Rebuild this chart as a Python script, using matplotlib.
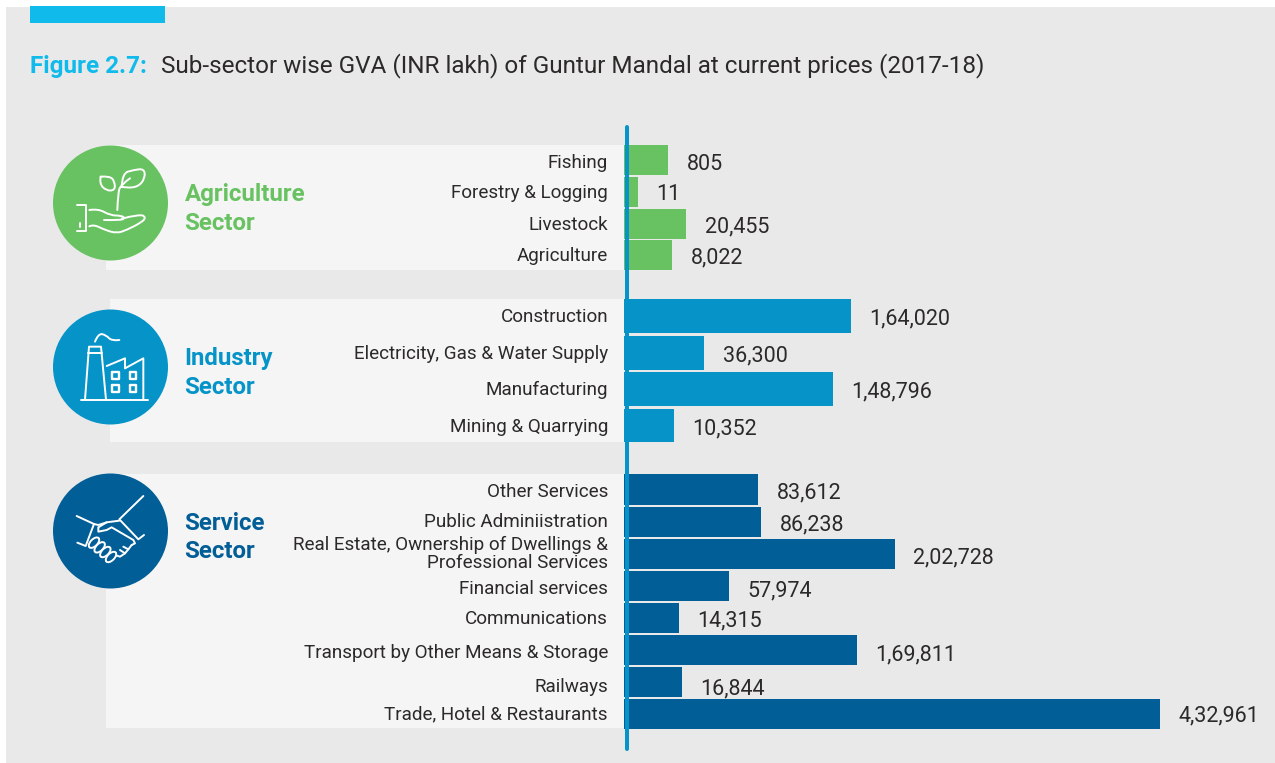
import matplotlib
matplotlib.use('Agg')
import numpy as np
import matplotlib.pyplot as plt
from matplotlib.path import Path
from matplotlib.patches import PathPatch, Rectangle, Circle, Ellipse

plt.rcParams['font.family'] = ['Roboto', 'DejaVu Sans']

# data
agri_names = ['Fishing', 'Forestry & Logging', 'Livestock', 'Agriculture']
agri_values = ['805', '11', '20,455', '8,022']
agri_bars = [44, 14, 62, 48]

ind_names = ['Construction', 'Electricity, Gas & Water Supply', 'Manufacturing', 'Mining & Quarrying']
ind_values = ['1,64,020', '36,300', '1,48,796', '10,352']
ind_bars = [227, 80, 209, 50]

serv_names = ['Other Services', 'Public Adminiistration',
              'Real Estate, Ownership of Dwellings &\nProfessional Services',
              'Financial services', 'Communications',
              'Transport by Other Means & Storage', 'Railways',
              'Trade, Hotel & Restaurants']
serv_values = ['83,612', '86,238', '2,02,728', '57,974', '14,315', '1,69,811', '16,844', '4,32,961']
serv_bars = [134, 137, 271, 105, 55, 233, 58, 536]

# layout, all in pixels of the picture
agri_y = [160, 192, 224, 255]
agri_h = [30, 30, 30, 30]
ind_y = [316, 353, 389, 425.5]
ind_h = [34, 34, 34, 33]
serv_y = [489.5, 522, 554, 586, 618, 650, 682, 714]
serv_h = [31, 30, 30, 30, 30, 30, 30, 30]

agri_text_y = [163, 193, 224.5, 256]
ind_text_y = [317, 354, 390, 427]
serv_text_y = [492, 522, 554, 589, 619, 653, 687, 714]
agri_val_y = [165, 195, 227, 258]
ind_val_y = [319, 356, 392, 429]
serv_val_y = [493, 525, 558, 591, 621, 655, 689, 716]

GREEN = '#69c262'
BLUE = '#0694c8'
DARK = '#025e96'
CYAN = '#10bbec'
INK = '#2b2a29'
BASE = 624


def stroke(pts, origin, scale=3, closed=False, smooth=True, lw=1.4):
    p = np.array(pts, dtype=float) / scale + origin
    if not smooth:
        if closed:
            p = np.vstack([p, p[0]])
        ax.plot(p[:, 0], p[:, 1], color='white', lw=lw, solid_capstyle='round',
                solid_joinstyle='round', zorder=5)
        return
    verts = [p[0]]
    codes = [Path.MOVETO]
    for i in range(1, len(p) - 1):
        end = p[i + 1] if i == len(p) - 2 else (p[i] + p[i + 1]) / 2
        verts += [p[i], end]
        codes += [Path.CURVE3, Path.CURVE3]
    ax.add_patch(PathPatch(Path(verts, codes), fc='none', ec='white', lw=lw,
                           capstyle='round', zorder=5))


fig = plt.figure(figsize=(12.75, 7.63), dpi=100, facecolor='white')
ax = fig.add_axes([0, 0, 1, 1])
ax.set_xlim(0, 1275)
ax.set_ylim(763, 0)
ax.axis('off')

ax.add_patch(Rectangle((6, 7), 1269, 756, fc='#e9e9e9', ec='none', zorder=0))
ax.add_patch(Rectangle((30, 6), 135, 17, fc=CYAN, ec='none', zorder=1))

ax.text(30, 66, 'Figure 2.7:', color=CYAN, fontsize=17.45, fontweight='bold', va='center')
ax.text(161, 66, 'Sub-sector wise GVA (INR lakh) of Guntur Mandal at current prices (2017-18)',
        color=INK, fontsize=17.47, va='center')

# light panels behind the labels
ax.add_patch(Rectangle((106, 145), 518, 125, fc='#f5f5f5', ec='none', zorder=1))
ax.add_patch(Rectangle((110, 299), 514, 143, fc='#f5f5f5', ec='none', zorder=1))
ax.add_patch(Rectangle((106, 474), 518, 254, fc='#f5f5f5', ec='none', zorder=1))

groups = [
    (agri_names, agri_values, agri_bars, agri_y, agri_h, agri_text_y, agri_val_y, GREEN),
    (ind_names, ind_values, ind_bars, ind_y, ind_h, ind_text_y, ind_val_y, BLUE),
    (serv_names, serv_values, serv_bars, serv_y, serv_h, serv_text_y, serv_val_y, DARK),
]
for names, values, bars, ys, hs, ty, vy, col in groups:
    ax.barh(ys, bars, height=hs, left=BASE, color=col, zorder=2)
    for i in range(len(names)):
        ax.text(608, ty[i], names[i], ha='right', va='center', color=INK, fontsize=13.55,
                linespacing=0.95, zorder=3)
        ax.text(BASE + bars[i] + 18.5, vy[i], values[i], ha='left', va='center', color=INK,
                fontsize=15.5, zorder=3)

ax.plot([627, 627], [127, 749], color=BLUE, lw=2.9, solid_capstyle='round', zorder=4)

# sector discs and names
for cy, col, first in [(203, GREEN, 'Agriculture'), (367, BLUE, 'Industry'), (531, DARK, 'Service')]:
    ax.add_patch(Circle((110.5, cy), 57.5, fc=col, ec='none', zorder=3))
    ax.text(184.5, cy - 8, first, color=col, fontsize=17.3, fontweight='bold', va='center')
    ax.text(184.5, cy + 21, 'Sector', color=col, fontsize=17.3, fontweight='bold', va='center')

# plant in hand
o = np.array([30, 130])
stroke([(140, 226), (168, 226), (168, 303), (140, 303)], o, smooth=False)
stroke([(150, 280), (150, 290)], o, smooth=False)
stroke([(178, 240), (205, 236), (240, 256), (275, 257), (285, 265), (270, 271), (222, 270)], o)
stroke([(275, 266), (330, 252), (348, 262), (335, 277), (290, 300), (260, 310), (225, 300),
        (190, 283), (178, 289)], o)
stroke([(262, 240), (264, 190), (272, 165), (300, 145)], o)
stroke([(275, 170), (277, 130), (310, 120), (343, 116), (345, 145), (325, 170), (290, 174), (275, 170)], o)
stroke([(212, 140), (240, 138), (254, 155), (255, 181), (228, 182), (208, 160), (212, 140)], o)

# factory
o = np.array([30, 295])
stroke([(152, 314), (354, 314)], o, smooth=False)
stroke([(165, 314), (177, 155), (213, 155), (228, 314)], o, smooth=False)
stroke([(175, 175), (215, 175)], o, smooth=False)
stroke([(195, 140), (205, 115), (228, 120), (245, 138), (268, 135)], o)
stroke([(230, 213), (285, 190), (285, 220), (340, 190), (340, 314)], o, smooth=False)
for wx, wy in [(247, 232), (300, 232), (247, 271), (300, 271)]:
    stroke([(wx, wy), (wx + 19, wy), (wx + 19, wy + 19), (wx, wy + 19)], o, closed=True, smooth=False, lw=1.7)

# handshake
o = np.array([70, 490])
stroke([(220, 18), (148, 88), (205, 148), (222, 135)], o, smooth=False)
stroke([(20, 78), (72, 102), (47, 168), (22, 158)], o, smooth=False)
stroke([(72, 102), (85, 105), (110, 97), (148, 92)], o, smooth=False)
stroke([(110, 97), (85, 112), (85, 125), (110, 120), (125, 112), (190, 150), (195, 160), (185, 165)], o, smooth=False)
stroke([(185, 165), (175, 178), (160, 170)], o, smooth=False)
stroke([(175, 178), (165, 190), (150, 180)], o, smooth=False)
stroke([(165, 190), (150, 200), (135, 195)], o, smooth=False)
for ex, ey in [(72, 158), (89, 172), (106, 186), (123, 201)]:
    ax.add_patch(Ellipse(o + np.array([ex, ey]) / 3, 13, 7, angle=-45, fc=DARK, ec='white',
                         lw=1.4, zorder=5))

fig.savefig('out.png', dpi=100, facecolor='white')
